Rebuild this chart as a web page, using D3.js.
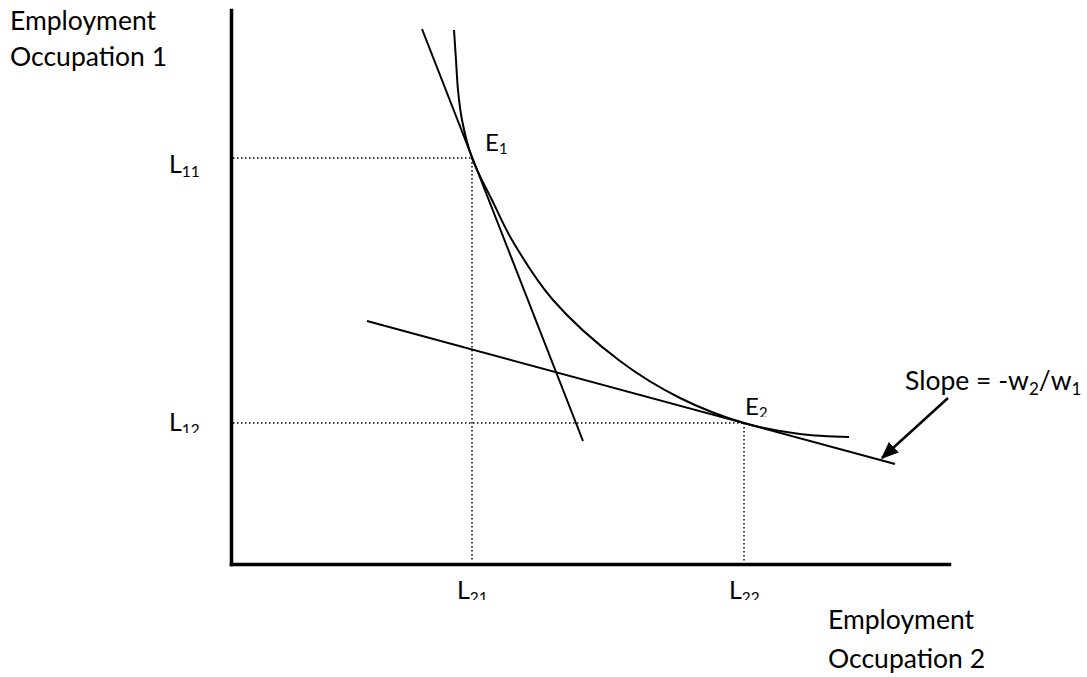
<!DOCTYPE html>
<html>
<head>
<meta charset="utf-8">
<script src="https://cdn.jsdelivr.net/npm/d3@7"></script>
<style>
  html, body { margin: 0; padding: 0; background: #fff; }
  svg { display: block; }
  text { font-family: "Lato", "Open Sans", sans-serif; fill: #000; }
</style>
</head>
<body>
<svg id="chart" width="1087" height="677"></svg>
<script>
// ---- data (in chart units) ----
const axisMax = [718, 554];                 // x extent, y extent
const isoquant = [                           // curve points [x, y]
  [223, 534], [225, 504], [227, 474], [231, 444], [241, 406], [261, 364],
  [281, 324], [322, 264], [389, 203], [449, 166], [513, 141], [569, 130], [618, 127]
];
const tangent1 = [[191, 535], [352, 123]];
const tangent2 = [[136, 243], [664, 100]];
const equilibria = [[241, 406], [513, 141]];  // E1, E2
const pointLabels = [["E", "1"], ["E", "2"]];
const xTickLabels = [["L", "21"], ["L", "22"]];
const yTickLabels = [["L", "11"], ["L", "12"]];
const slopeArrow = [[717, 166], [651, 106]];  // start, tip
const slopeText = ["Slope = -w", "2", "/w", "1"];
const yTitle = ["Employment", "Occupation 1"];
const xTitle = ["Employment", "Occupation 2"];

// ---- scales ----
const x = d3.scaleLinear().domain([0, axisMax[0]]).range([231, 949]);
const y = d3.scaleLinear().domain([0, axisMax[1]]).range([564, 10]);

const svg = d3.select("#chart");
const defs = svg.append("defs");
defs.append("marker")
  .attr("id", "arrowHead")
  .attr("viewBox", "0 0 12 10")
  .attr("refX", 11).attr("refY", 5)
  .attr("markerWidth", 7).attr("markerHeight", 6)
  .attr("markerUnits", "strokeWidth")
  .attr("orient", "auto")
  .append("path").attr("d", "M0,0 L12,5 L0,10 Z").attr("fill", "#000");

// ---- axes ----
const xAxis = d3.axisBottom(x).tickValues([]).tickSizeOuter(0);
const yAxis = d3.axisLeft(y).tickValues([]).tickSizeOuter(0);
const gx = svg.append("g").attr("transform", `translate(0,${y(0)})`).call(xAxis);
const gy = svg.append("g").attr("transform", `translate(${x(0)},0)`).call(yAxis);
[gx, gy].forEach(g => g.select(".domain")
  .attr("stroke", "#000").attr("stroke-width", 3.5).attr("stroke-linecap", "square"));

// ---- dotted guides ----
const guides = svg.append("g")
  .attr("stroke", "#000").attr("stroke-width", 1.5)
  .attr("stroke-dasharray", "1.5,2.5").attr("fill", "none");
equilibria.forEach(([ex, ey]) => {
  guides.append("line").attr("x1", x(0) + 2).attr("x2", x(ex)).attr("y1", y(ey)).attr("y2", y(ey));
  guides.append("line").attr("x1", x(ex)).attr("x2", x(ex)).attr("y1", y(ey)).attr("y2", y(0) - 2);
});

// ---- curve and tangents ----
const curveLine = d3.line().x(d => x(d[0])).y(d => y(d[1])).curve(d3.curveCatmullRom.alpha(0.5));
svg.append("path").datum(isoquant)
  .attr("d", curveLine)
  .attr("fill", "none").attr("stroke", "#000").attr("stroke-width", 2);
const straight = d3.line().x(d => x(d[0])).y(d => y(d[1]));
[tangent1, tangent2].forEach(t => {
  svg.append("path").datum(t).attr("d", straight)
    .attr("fill", "none").attr("stroke", "#000").attr("stroke-width", 2);
});

// ---- arrow ----
svg.append("path").datum(slopeArrow).attr("d", straight)
  .attr("fill", "none").attr("stroke", "#000").attr("stroke-width", 2.5)
  .attr("marker-end", "url(#arrowHead)");

// ---- labels with subscripts ----
let clipCount = 0;
function subLabel(g, base, sub, px, py, size, clipY) {
  const t = g.append("text").attr("x", px).attr("y", py).attr("font-size", size);
  t.append("tspan").text(base);
  t.append("tspan").attr("font-size", size * 0.62).attr("dy", size * 0.14).text(sub);
  if (clipY !== null) {
    const id = "clip" + (clipCount++);
    defs.append("clipPath").attr("id", id).append("rect")
      .attr("x", px - 5).attr("y", py - size * 1.3)
      .attr("width", size * 3).attr("height", clipY - (py - size * 1.3));
    t.attr("clip-path", `url(#${id})`);
  }
  return t;
}
const labels = svg.append("g");
// y tick labels (left of axis)
const y11 = y(equilibria[0][1]) + 15, y12 = y(equilibria[1][1]) + 8;
subLabel(labels, yTickLabels[0][0], yTickLabels[0][1], 169, y11, 25, null);
subLabel(labels, yTickLabels[1][0], yTickLabels[1][1], 169, y12, 25, y12 + 2);
// x tick labels (under axis)
xTickLabels.forEach((lab, i) => {
  subLabel(labels, lab[0], lab[1], x(equilibria[i][0]) - 15, 599, 25, 600);
});
// point labels
subLabel(labels, pointLabels[0][0], pointLabels[0][1], x(equilibria[0][0]) + 13, y(equilibria[0][1]) - 7, 24, null);
const e2y = y(equilibria[1][1]) - 8;
subLabel(labels, pointLabels[1][0], pointLabels[1][1], x(equilibria[1][0]) + 1, e2y, 24, e2y + 2);

// slope label
const st = labels.append("text").attr("x", 905).attr("y", 390).attr("font-size", 26.5);
st.append("tspan").text(slopeText[0]);
st.append("tspan").attr("font-size", 17).attr("dy", 5).text(slopeText[1]);
st.append("tspan").attr("dy", -5).text(slopeText[2]);
st.append("tspan").attr("font-size", 17).attr("dy", 5).text(slopeText[3]);

// axis titles
yTitle.forEach((s, i) => labels.append("text").attr("x", 10).attr("y", 30 + i * 36).attr("font-size", 26.5).text(s));
xTitle.forEach((s, i) => labels.append("text").attr("x", 828).attr("y", 629 + i * 39).attr("font-size", 26.5).text(s));
</script>
</body>
</html>
